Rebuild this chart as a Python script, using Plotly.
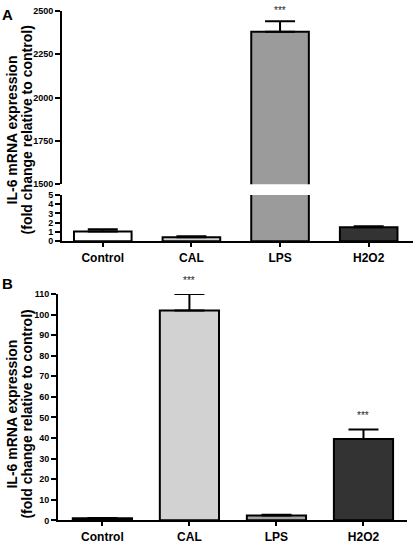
import plotly.graph_objects as go

categories = ["Control", "CAL", "LPS", "H2O2"]

# Panel A values (fold change) and SEM
a_values = [1.05, 0.42, 2380, 1.5]
a_errors = [0.25, 0.12, 60, 0.12]
# Panel B values and SEM
b_values = [1.0, 102, 2.4, 39.5]
b_errors = [0.2, 8, 0.3, 4.7]

a_colors = ["#ffffff", "#d2d2d2", "#9b9b9b", "#333333"]
b_colors = ["#ffffff", "#d2d2d2", "#a3a3a3", "#333333"]

a_upper_ticks = [1500, 1750, 2000, 2250, 2500]
a_lower_ticks = [0, 1, 2, 3, 4, 5]
b_ticks = [0, 10, 20, 30, 40, 50, 60, 70, 80, 90, 100, 110]

sig_a = ["", "", "***", ""]
sig_b = ["", "***", "", "***"]

title_line1 = "IL-6 mRNA expression"
title_line2 = "(fold change relative to control)"

W, H = 416, 544
def fy(py):
    return 1 - py / H

FONT = "Liberation Sans, Arial, sans-serif"

fig = go.Figure()

def bar_trace(vals, errs, colors, xa, ya, width):
    return go.Bar(
        x=categories, y=vals, xaxis=xa, yaxis=ya, width=width,
        marker=dict(color=colors, line=dict(color="black", width=2)),
        error_y=dict(type="data", symmetric=False, array=errs,
                     arrayminus=[0] * len(errs), color="black",
                     thickness=2, width=15),
        showlegend=False, hoverinfo="skip",
    )

# Panel A lower segment (0-5)
fig.add_trace(bar_trace(a_values, a_errors, a_colors, "x", "y", 0.65))
# Panel A upper segment (1500-2500)
fig.add_trace(bar_trace(a_values, a_errors, a_colors, "x2", "y2", 0.65))
# Panel B
fig.add_trace(bar_trace(b_values, b_errors, b_colors, "x3", "y3", 0.68))

ytick = dict(ticks="outside", ticklen=5, tickwidth=2, tickcolor="black",
             showline=True, linecolor="black", linewidth=2, showgrid=False,
             zeroline=False, tickfont=dict(family=FONT, size=9, color="black", weight="bold"))
xtick = dict(ticks="outside", ticklen=4, tickwidth=2, tickcolor="black",
             showline=True, linecolor="black", linewidth=2, showgrid=False,
             zeroline=False, tickfont=dict(family=FONT, size=12, color="black", weight="bold"))

a_xdom = [62 / W, 413 / W]
b_xdom = [58 / W, 407 / W]

fig.update_layout(
    width=W, height=H,
    margin=dict(l=0, r=0, t=0, b=0),
    paper_bgcolor="white", plot_bgcolor="white",
    bargap=0.3,
    xaxis=dict(domain=a_xdom, range=[-0.46, 3.5], anchor="y", **xtick),
    yaxis=dict(domain=[fy(241), fy(194)], range=[0, 5], tickvals=a_lower_ticks,
               anchor="x", **ytick),
    xaxis2=dict(domain=a_xdom, range=[-0.46, 3.5], anchor="y2", visible=False,
                matches="x"),
    yaxis2=dict(domain=[fy(183), fy(6)], range=[1500, 2500], tickvals=a_upper_ticks,
                anchor="x2", **ytick),
    xaxis3=dict(domain=b_xdom, range=[-0.51, 3.5], anchor="y3", **xtick),
    yaxis3=dict(domain=[fy(526), fy(295)], range=[0, 110], tickvals=b_ticks,
                anchor="x3", **ytick),
)

annotations = []
# significance stars
for cat, v, e, s in zip(categories, a_values, a_errors, sig_a):
    if s:
        annotations.append(dict(x=cat, y=v + e, xref="x2", yref="y2", text=s,
                                showarrow=False, yshift=11, yanchor="middle",
                                font=dict(family=FONT, size=10, color="#222222")))
for cat, v, e, s in zip(categories, b_values, b_errors, sig_b):
    if s:
        annotations.append(dict(x=cat, y=v + e, xref="x3", yref="y3", text=s,
                                showarrow=False, yshift=14, yanchor="middle",
                                font=dict(family=FONT, size=10, color="#222222")))

# panel letters
annotations.append(dict(x=7 / W, y=fy(10), xref="paper", yref="paper", text="A",
                        showarrow=False, xanchor="center", yanchor="middle",
                        font=dict(family=FONT, size=15, color="black", weight="bold")))
annotations.append(dict(x=7 / W, y=fy(284), xref="paper", yref="paper", text="B",
                        showarrow=False, xanchor="center", yanchor="middle",
                        font=dict(family=FONT, size=15, color="black", weight="bold")))

# y titles (two lines, rotated)
for cy in (128, 418):
    for cx, txt in ((12, title_line1), (27, title_line2)):
        annotations.append(dict(x=cx / W, y=fy(cy), xref="paper", yref="paper",
                                text=txt, textangle=-90, showarrow=False,
                                xanchor="center", yanchor="middle",
                                font=dict(family=FONT, size=14, color="black",
                                          weight="bold")))

fig.update_layout(annotations=annotations)

fig.write_html("out.html", config={"displayModeBar": False},
               post_script="document.body.style.margin='0';document.body.style.padding='0';")
